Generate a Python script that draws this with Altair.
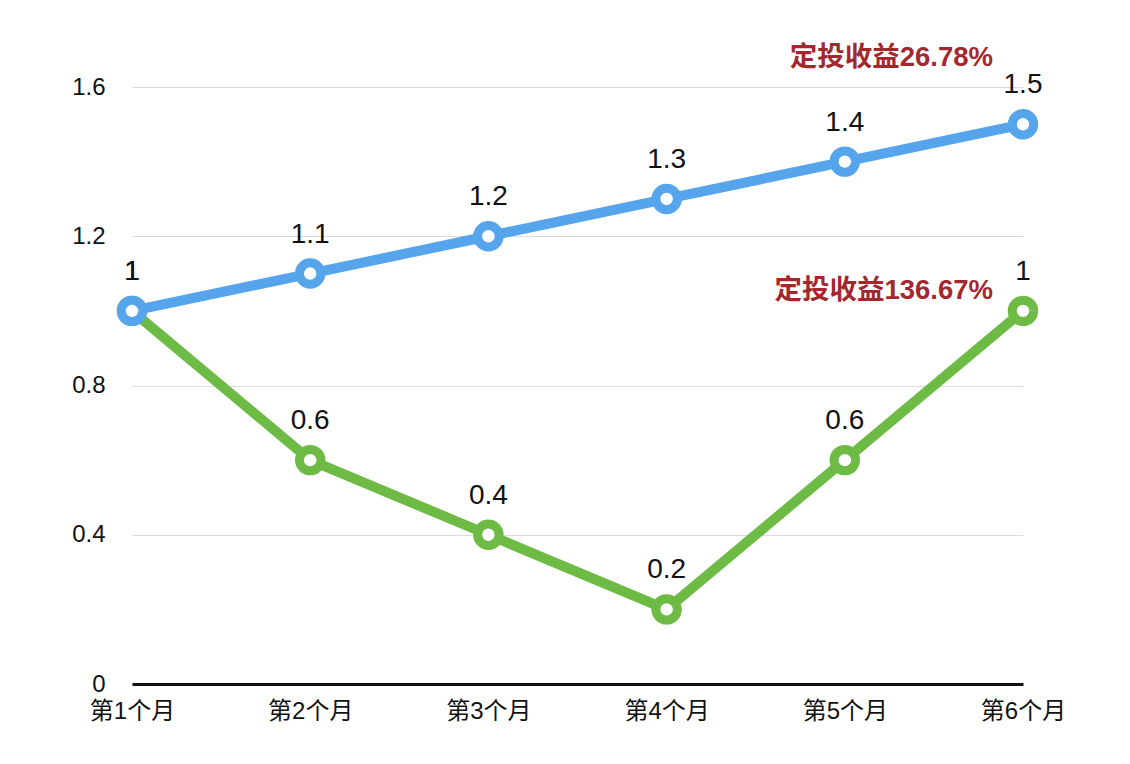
import altair as alt
import pandas as pd

months = ["第1个月", "第2个月", "第3个月", "第4个月", "第5个月", "第6个月"]
blue_vals = [1, 1.1, 1.2, 1.3, 1.4, 1.5]
green_vals = [1, 0.6, 0.4, 0.2, 0.6, 1]
blue_note = "定投收益26.78%"
green_note = "定投收益136.67%"

BLUE = "#55A4EC"
GREEN = "#6DBB45"
RED = "#A3282E"
FONT = "Liberation Sans, Helvetica, Arial, Noto Sans CJK SC, sans-serif"

x_enc = alt.X("month:N", sort=months, scale=alt.Scale(type="point", padding=0),
              axis=alt.Axis(title=None, labelAngle=0, ticks=False, domain=True,
                            domainColor="#111111", domainWidth=3, grid=False,
                            labelFontSize=24, labelPadding=15, labelColor="#111111",
                            labelFont=FONT))
y_enc = alt.Y("value:Q", scale=alt.Scale(domain=[0, 1.6], nice=False, zero=True),
              axis=alt.Axis(title=None, values=[0, 0.4, 0.8, 1.2, 1.6], format="~g",
                            ticks=False, domain=False, grid=True, gridColor="#dcdcdc",
                            gridWidth=1, labelFontSize=24, labelPadding=27,
                            labelColor="#111111", labelFont=FONT))


def series_layers(vals, color, note, note_dy):
    df = pd.DataFrame({"month": months, "value": vals})
    base = alt.Chart(df)
    line = base.mark_line(color=color, strokeWidth=10).encode(x=x_enc, y=y_enc)
    pts = base.mark_point(filled=True, fill="white", stroke=color, strokeWidth=9,
                          size=460, opacity=1).encode(x=x_enc, y=y_enc)
    labels = base.mark_text(dy=-39, fontSize=28, font=FONT, color="#111111",
                            baseline="middle").encode(x=x_enc, y=y_enc,
                                                       text=alt.Text("value:Q", format="~g"))
    ndf = pd.DataFrame({"month": [months[-1]], "value": [vals[-1]], "note": [note]})
    notes = alt.Chart(ndf).mark_text(dx=-30, dy=note_dy, align="right", baseline="middle",
                                     fontSize=27.5, fontWeight="bold", font=FONT,
                                     color=RED).encode(x=x_enc, y=y_enc, text="note:N")
    return [line, pts, labels, notes]


layers = series_layers(green_vals, GREEN, green_note, -20) + \
    series_layers(blue_vals, BLUE, blue_note, -66)

chart = alt.layer(*layers).properties(
    width=891, height=597,
    autosize=alt.AutoSizeParams(type="none"),
    padding={"left": 124, "top": 79, "right": 90, "bottom": 60},
    background="white",
).configure_view(stroke=None)

chart.save("out.html", embed_options={"renderer": "svg", "actions": False})
